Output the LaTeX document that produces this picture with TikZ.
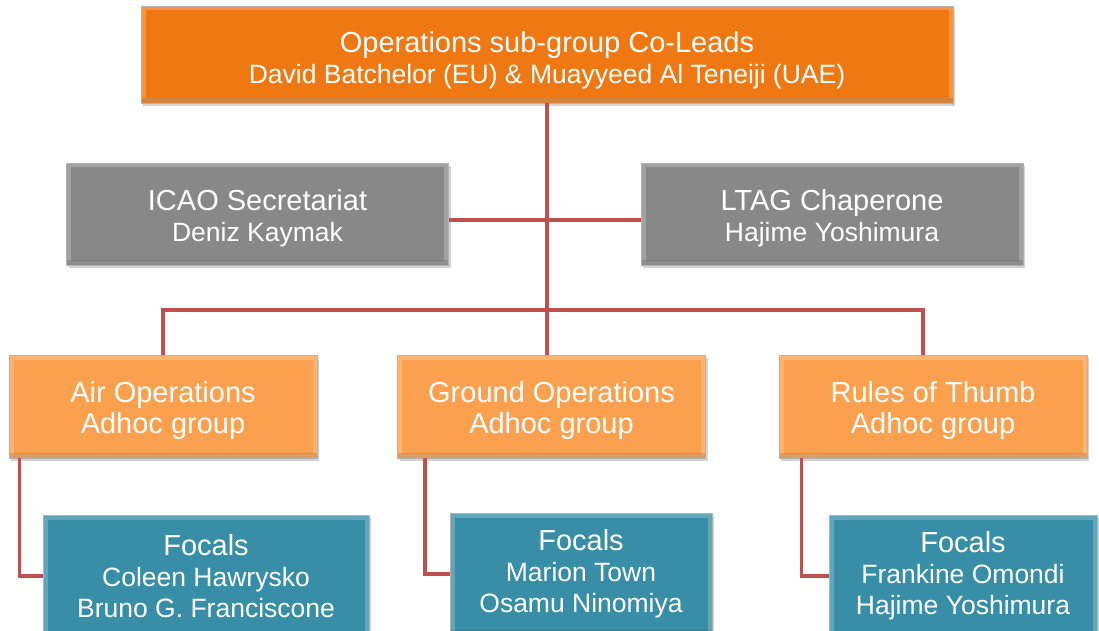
\documentclass[tikz,border=0pt]{standalone}
\usepackage{fontspec}
\setmainfont{Liberation Sans}
\usetikzlibrary{shadows}
\definecolor{leadorange}{RGB}{240,120,18}
\definecolor{secgrey}{RGB}{136,136,136}
\definecolor{grouporange}{RGB}{250,160,78}
\definecolor{focalteal}{RGB}{55,142,166}
\definecolor{linkred}{RGB}{192,80,77}
\newcommand{\hdline}[1]{{\fontsize{29}{33}\selectfont #1}}
\newcommand{\lift}[1]{\rule{0pt}{#1}}

\begin{document}
\begin{tikzpicture}[x=1pt,y=-1pt,
    box/.style={draw=black!30, line width=0.8pt, text=white, align=center, inner sep=0pt,
        font=\fontsize{26.5}{31}\selectfont,
        drop shadow={shadow xshift=2pt,shadow yshift=-3pt,opacity=0.35},
        path picture={
            \draw[white,opacity=0.22,line width=9pt] (path picture bounding box.south west) rectangle (path picture bounding box.north east);
            \fill[black,opacity=0.12] (path picture bounding box.south west) rectangle ([yshift=5pt]path picture bounding box.south east);}},
    lead/.style={box, fill=leadorange, minimum width=812pt, minimum height=97pt},
    staff/.style={box, fill=secgrey, minimum width=382pt, minimum height=102pt},
    group/.style={box, fill=grouporange, minimum width=308pt, minimum height=103pt},
    focal/.style={box, fill=focalteal, minimum height=122pt},
    link/.style={draw=linkred, line width=3.5pt}]
    \useasboundingbox (0,0) rectangle (1099,631);
    \node[lead] (lead) at (547,54.5) {\hdline{\lift{33pt}Operations sub-group Co-Leads}\\David Batchelor (EU) \& Muayyeed Al Teneiji (UAE)};
    \node[staff] (icao) at (257.5,214) {\hdline{\lift{29pt}ICAO Secretariat}\\Deniz Kaymak};
    \node[staff] (ltag) at (832,214) {\hdline{\lift{29pt}LTAG Chaperone}\\Hajime Yoshimura};
    \node[group] (aop) at (163,406.5) {\hdline{\lift{30pt}Air Operations}\\\hdline{Adhoc group}};
    \node[group] (gop) at (551.5,406.5) {\hdline{\lift{30pt}Ground Operations}\\\hdline{Adhoc group}};
    \node[group] (rot) at (933,406.5) {\hdline{\lift{30pt}Rules of Thumb}\\\hdline{Adhoc group}};
    \node[focal, minimum width=326pt] (aopf) at (206,576) {\hdline{Focals}\\Coleen Hawrysko\\Bruno G. Franciscone};
    \node[focal, minimum width=262pt] (gopf) at (581,574) {\hdline{Focals}\\Marion Town\\Osamu Ninomiya};
    \node[focal, minimum width=268pt] (rotf) at (963,576) {\hdline{Focals}\\Frankine Omondi\\Hajime Yoshimura};
    % connectors
    \coordinate (bus) at (548,310);
    \draw[link] (lead.south) -- (lead.south |- gop.north);
    \draw[link] ([yshift=-6pt]icao.east) -- ([yshift=-6pt]ltag.west);
    \draw[link] (aop.north) |- (bus) -| ([xshift=-10pt]rot.north);
    \draw[link] ([xshift=11pt]aop.south west) |- (aopf.west);
    \draw[link] ([xshift=28pt]gop.south west) |- (gopf.west);
    \draw[link] ([xshift=23pt]rot.south west) |- (rotf.west);
\end{tikzpicture}
\end{document}
